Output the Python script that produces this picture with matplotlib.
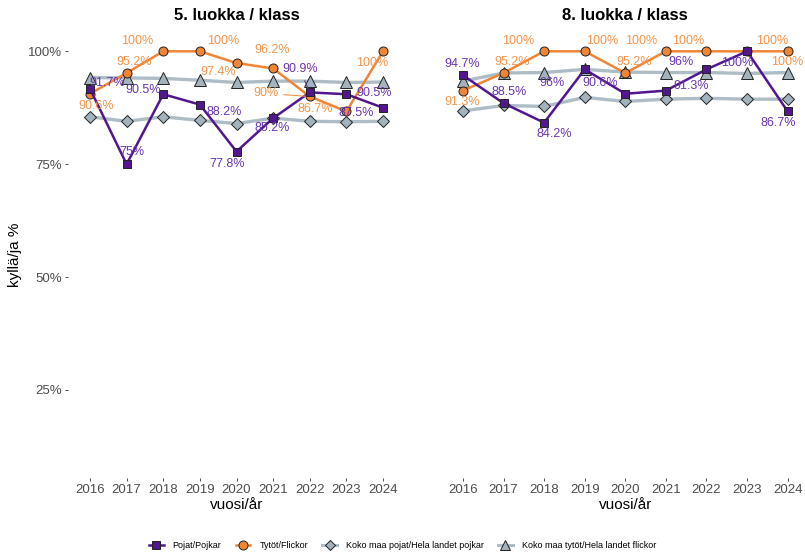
import matplotlib.pyplot as plt

plt.rcParams['font.family'] = ['Liberation Sans', 'DejaVu Sans']

# DATA
years = [2016, 2017, 2018, 2019, 2020, 2021, 2022, 2023, 2024]
panel_titles = ["5. luokka / klass", "8. luokka / klass"]
series_names = ["Pojat/Pojkar", "Tytöt/Flickor",
                "Koko maa pojat/Hela landet pojkar", "Koko maa tytöt/Hela landet flickor"]

boys_5 = [91.7, 75.0, 90.5, 88.2, 77.8, 85.2, 90.9, 90.5, 87.5]
girls_5 = [90.6, 95.2, 100, 100, 97.4, 96.2, 90.0, 86.7, 100]
nat_boys_5 = [85.5, 84.5, 85.5, 84.7, 84.0, 85.2, 84.5, 84.4, 84.5]
nat_girls_5 = [94.2, 94.1, 94.0, 93.6, 93.1, 93.4, 93.4, 93.1, 93.2]

boys_8 = [94.7, 88.5, 84.2, 96.0, 90.6, 91.3, 96.0, 100, 86.7]
girls_8 = [91.3, 95.2, 100, 100, 95.2, 100, 100, 100, 100]
nat_boys_8 = [86.8, 88.0, 87.8, 89.8, 88.9, 89.4, 89.6, 89.4, 89.4]
nat_girls_8 = [93.4, 95.2, 95.3, 96.0, 95.4, 95.3, 95.3, 95.1, 95.3]

# label nudges in pixels (dx, dy), like ggrepel placed them
boys_5_nudge = [(17, 6), (5, 12), (-20, 4), (24, -7), (-9, -12), (-1, -10), (-10, 23), (28, 1), (-27, -5)]
girls_5_nudge = [(6, -12), (8, 11), (-26, 10), (23, 10), (-18, -9), (-1, 18), (-44, 3), (-31, 2), (-11, -12)]
boys_8_nudge = [(-1, 11), (6, 11), (10, -11), (-33, -14), (-25, 11), (25, 5), (-25, 7), (-10, -12), (-9, -12)]
girls_8_nudge = [(-1, -11), (9, 11), (-26, 10), (17, 10), (9, 11), (-25, 10), (-18, 10), (25, 10), (0, -11)]

PURPLE = "#52168f"
ORANGE = "#ef8535"
GREY = "#a3b3bd"
GREY_LINE = "#aebcc5"
PURPLE_TXT = "#6a35b0"
ORANGE_TXT = "#f39449"


def fmt(v):
    s = f"{v:.1f}".rstrip("0").rstrip(".")
    return s + "%"


def draw_panel(ax, boys, girls, nat_boys, nat_girls, boys_nudge, girls_nudge, seg_idx=()):
    ax.plot(years, nat_boys, color=GREY_LINE, lw=2.4, marker="D", ms=6,
            mfc=GREY, mec="#222222", mew=0.7, zorder=2)
    ax.plot(years, nat_girls, color=GREY_LINE, lw=2.4, marker="^", ms=8,
            mfc=GREY, mec="#222222", mew=0.7, zorder=2)
    ax.plot(years, girls, color=ORANGE, lw=1.8, marker="o", ms=6.5,
            mfc=ORANGE, mec="#222222", mew=0.7, zorder=3)
    ax.plot(years, boys, color=PURPLE, lw=1.8, marker="s", ms=5.5,
            mfc=PURPLE, mec="#222222", mew=0.7, zorder=4)

    for vals, nudges, col in [(girls, girls_nudge, ORANGE_TXT), (boys, boys_nudge, PURPLE_TXT)]:
        for i, (yr, v) in enumerate(zip(years, vals)):
            kw = {}
            if i in seg_idx:
                kw["arrowprops"] = dict(arrowstyle="-", color=col, lw=0.8, shrinkA=2, shrinkB=3)
            ax.annotate(fmt(v), (yr, v), xytext=nudges[i], textcoords="offset pixels",
                        ha="center", va="center", fontsize=9, color=col, zorder=5, **kw)

    ax.set_xlim(2015.4, 2024.6)
    ax.set_ylim(5.5, 104.5)
    ax.set_xticks(years)
    ax.set_xticklabels([str(y) for y in years])
    ax.set_yticks([25, 50, 75, 100])
    ax.set_yticklabels(["25%", "50%", "75%", "100%"])
    ax.tick_params(axis="both", length=2.5, width=0.6, color="#333333",
                   labelcolor="#4d4d4d", labelsize=9.5, pad=2)
    for sp in ax.spines.values():
        sp.set_visible(False)
    ax.set_xlabel("vuosi/år", fontsize=11, labelpad=1)


fig = plt.figure(figsize=(8.05, 5.52), dpi=100)
ax1 = fig.add_axes([68 / 805, 74 / 552, 337 / 805, 447 / 552])
ax2 = fig.add_axes([438.6 / 805, 74 / 552, 373.4 / 805, 447 / 552])

draw_panel(ax1, boys_5, girls_5, nat_boys_5, nat_girls_5, boys_5_nudge, girls_5_nudge, seg_idx=(6,))
draw_panel(ax2, boys_8, girls_8, nat_boys_8, nat_girls_8, boys_8_nudge, girls_8_nudge)
ax2.tick_params(axis="y", left=False, labelleft=False)

ax1.set_ylabel("kyllä/ja %", fontsize=11)
ax1.set_title(panel_titles[0], fontsize=12, fontweight="bold", pad=8)
ax2.set_title(panel_titles[1], fontsize=12, fontweight="bold", pad=8)

handles = [
    plt.Line2D([], [], color=PURPLE, lw=1.8, marker="s", ms=5.5, mfc=PURPLE, mec="#222222", mew=0.7),
    plt.Line2D([], [], color=ORANGE, lw=1.8, marker="o", ms=6.5, mfc=ORANGE, mec="#222222", mew=0.7),
    plt.Line2D([], [], color=GREY_LINE, lw=2.2, marker="D", ms=5.5, mfc=GREY, mec="#222222", mew=0.7),
    plt.Line2D([], [], color=GREY_LINE, lw=2.2, marker="^", ms=7, mfc=GREY, mec="#222222", mew=0.7),
]
fig.legend(handles, series_names, loc="lower center", bbox_to_anchor=(0.5, -0.012), ncol=4,
           frameon=False, fontsize=6.5, handlelength=1.6, columnspacing=1.6, handletextpad=1.0)

fig.savefig("out.png", dpi=100)
print("DONE")
